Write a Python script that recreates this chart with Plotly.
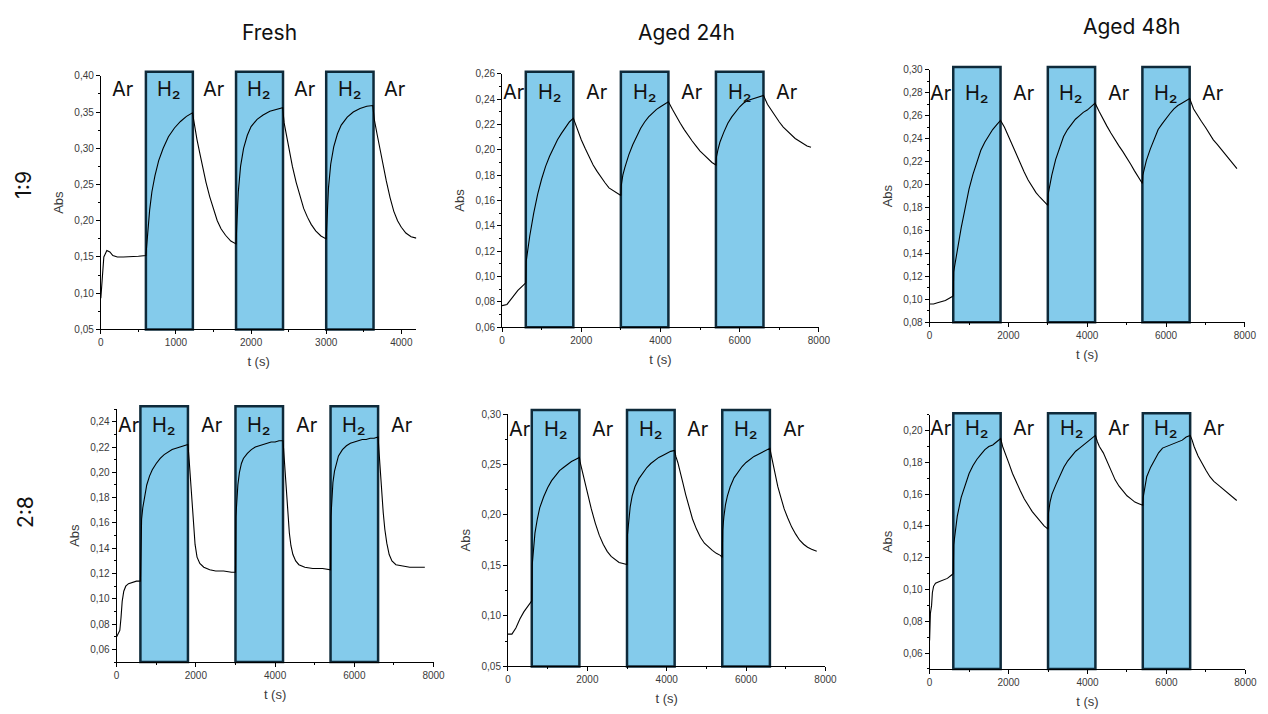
import plotly.graph_objects as go

# ---- Absorbance transients (t in s, Abs) ----
t_fresh_19 = [0, 15, 40, 80, 120, 160, 220, 300, 400, 500, 600,
              610, 625, 650, 680, 720, 770, 830, 900, 980, 1060, 1140, 1220,
              1240, 1280, 1320, 1360, 1400, 1450, 1500, 1550, 1600, 1660, 1730, 1800,
              1810, 1830, 1860, 1900, 1950, 2000, 2080, 2160, 2250, 2340, 2420,
              2440, 2480, 2510, 2550, 2600, 2650, 2700, 2750, 2800, 2860, 2930, 3000,
              3010, 3030, 3060, 3100, 3150, 3200, 3280, 3360, 3450, 3540, 3620,
              3640, 3680, 3720, 3760, 3800, 3850, 3900, 3950, 4000, 4060, 4130, 4200]
abs_fresh_19 = [0.093, 0.120, 0.150, 0.159, 0.157, 0.152, 0.150, 0.150, 0.150, 0.151, 0.152,
                0.165, 0.185, 0.215, 0.240, 0.262, 0.283, 0.300, 0.316, 0.328, 0.337, 0.344, 0.349,
                0.335, 0.312, 0.292, 0.272, 0.253, 0.233, 0.215, 0.200, 0.189, 0.180, 0.172, 0.168,
                0.195, 0.240, 0.275, 0.300, 0.318, 0.330, 0.340, 0.346, 0.351, 0.354, 0.356,
                0.335, 0.312, 0.295, 0.275, 0.253, 0.234, 0.217, 0.205, 0.195, 0.186, 0.179, 0.175,
                0.195, 0.245, 0.278, 0.302, 0.320, 0.332, 0.343, 0.350, 0.355, 0.358, 0.359,
                0.340, 0.318, 0.296, 0.275, 0.255, 0.232, 0.213, 0.200, 0.191, 0.183, 0.178, 0.176]

t_24h_19 = [0, 125, 200, 333, 400, 500, 600,
            610, 650, 700, 800, 900, 1000, 1100, 1200, 1300, 1400, 1500, 1600, 1700, 1800,
            1900, 2000, 2100, 2200, 2300, 2400, 2500, 2600, 2700, 2800, 2900, 3000,
            3010, 3050, 3100, 3200, 3300, 3400, 3500, 3600, 3700, 3800, 3900, 4000, 4100, 4200,
            4300, 4400, 4500, 4600, 4700, 4800, 4900, 5000, 5100, 5200, 5300, 5400,
            5410, 5450, 5500, 5600, 5700, 5800, 5900, 6000, 6100, 6200, 6300, 6400, 6500, 6600,
            6700, 6800, 6900, 7000, 7100, 7200, 7300, 7400, 7500, 7600, 7700, 7800]
abs_24h_19 = [0.077, 0.078, 0.081, 0.087, 0.089, 0.092, 0.095,
              0.112, 0.122, 0.132, 0.150, 0.165, 0.177, 0.187, 0.195, 0.202, 0.208, 0.213, 0.218, 0.222, 0.225,
              0.216, 0.208, 0.201, 0.194, 0.188, 0.183, 0.178, 0.174, 0.170, 0.168, 0.166, 0.164,
              0.172, 0.180, 0.186, 0.196, 0.204, 0.211, 0.217, 0.222, 0.226, 0.229, 0.232, 0.234, 0.236, 0.238,
              0.232, 0.226, 0.221, 0.216, 0.211, 0.207, 0.203, 0.199, 0.196, 0.193, 0.190, 0.188,
              0.194, 0.200, 0.206, 0.214, 0.221, 0.226, 0.230, 0.234, 0.237, 0.239, 0.240, 0.241, 0.242, 0.243,
              0.236, 0.231, 0.226, 0.222, 0.218, 0.215, 0.212, 0.209, 0.207, 0.205, 0.203, 0.202]

t_48h_19 = [0, 100, 200, 300, 400, 500, 600,
            610, 650, 700, 750, 800, 900, 1000, 1100, 1200, 1300, 1400, 1500, 1600, 1700, 1800,
            1900, 2000, 2100, 2200, 2300, 2400, 2500, 2600, 2700, 2800, 2900, 3000,
            3010, 3050, 3100, 3200, 3300, 3400, 3500, 3600, 3700, 3800, 3900, 4000, 4100, 4200,
            4300, 4400, 4500, 4600, 4700, 4800, 4900, 5000, 5100, 5200, 5300, 5400,
            5410, 5450, 5500, 5600, 5700, 5800, 5900, 6000, 6100, 6200, 6300, 6400, 6500, 6600,
            6700, 6800, 6900, 7000, 7100, 7200, 7300, 7400, 7500, 7600, 7700, 7800]
abs_48h_19 = [0.096, 0.096, 0.097, 0.098, 0.099, 0.101, 0.103,
              0.124, 0.133, 0.143, 0.152, 0.162, 0.180, 0.196, 0.209, 0.220, 0.230, 0.237, 0.243, 0.248, 0.252, 0.256,
              0.250, 0.242, 0.235, 0.227, 0.219, 0.211, 0.204, 0.198, 0.193, 0.189, 0.185, 0.182,
              0.192, 0.200, 0.208, 0.222, 0.233, 0.242, 0.248, 0.253, 0.257, 0.260, 0.263, 0.265, 0.268, 0.271,
              0.264, 0.257, 0.251, 0.245, 0.239, 0.234, 0.229, 0.224, 0.218, 0.212, 0.206, 0.201,
              0.208, 0.215, 0.221, 0.231, 0.240, 0.248, 0.253, 0.258, 0.262, 0.266, 0.269, 0.271, 0.273, 0.275,
              0.266, 0.260, 0.255, 0.250, 0.244, 0.239, 0.235, 0.231, 0.227, 0.223, 0.218, 0.214]

t_fresh_28 = [0, 40, 80, 110, 140, 180, 230, 300, 400, 500, 600,
              610, 630, 660, 700, 760, 830, 900, 1000, 1100, 1200, 1300, 1400, 1500, 1600, 1700, 1800,
              1830, 1860, 1900, 1940, 1980, 2030, 2100, 2200, 2350, 2500, 2700, 2900, 3000,
              3010, 3030, 3060, 3100, 3150, 3200, 3300, 3400, 3500, 3600, 3700, 3800, 3900, 4000, 4100, 4200,
              4220, 4250, 4280, 4320, 4360, 4400, 4450, 4520, 4600, 4750, 4950, 5200, 5400,
              5410, 5430, 5460, 5500, 5550, 5600, 5700, 5800, 5900, 6000, 6100, 6200, 6300, 6400, 6500, 6600,
              6620, 6650, 6690, 6730, 6770, 6820, 6880, 6950, 7050, 7200, 7400, 7600, 7780]
abs_fresh_28 = [0.070, 0.072, 0.075, 0.085, 0.098, 0.106, 0.110, 0.112, 0.113, 0.114, 0.114,
                0.155, 0.163, 0.172, 0.180, 0.190, 0.197, 0.202, 0.207, 0.211, 0.214, 0.216, 0.218, 0.219, 0.220, 0.221, 0.222,
                0.210, 0.195, 0.175, 0.158, 0.143, 0.133, 0.128, 0.125, 0.123, 0.122, 0.122, 0.121, 0.121,
                0.165, 0.180, 0.190, 0.200, 0.207, 0.211, 0.215, 0.218, 0.220, 0.221, 0.222, 0.223, 0.224, 0.224, 0.225, 0.225,
                0.215, 0.200, 0.186, 0.168, 0.152, 0.142, 0.135, 0.130, 0.127, 0.125, 0.124, 0.124, 0.123,
                0.165, 0.180, 0.192, 0.201, 0.208, 0.213, 0.218, 0.221, 0.223, 0.224, 0.225, 0.226, 0.226, 0.227, 0.227, 0.228,
                0.218, 0.203, 0.187, 0.168, 0.155, 0.144, 0.135, 0.130, 0.127, 0.126, 0.125, 0.125, 0.125]

t_24h_28 = [0, 100, 200, 300, 400, 500, 600,
            610, 640, 680, 740, 800, 900, 1000, 1100, 1200, 1300, 1400, 1500, 1600, 1700, 1800,
            1820, 1860, 1900, 1960, 2020, 2100, 2200, 2300, 2400, 2500, 2600, 2700, 2800, 2900, 3000,
            3010, 3040, 3080, 3130, 3200, 3300, 3400, 3500, 3600, 3700, 3800, 3900, 4000, 4100, 4200,
            4230, 4280, 4330, 4400, 4480, 4560, 4650, 4750, 4850, 4950, 5050, 5150, 5250, 5350, 5400,
            5410, 5440, 5480, 5530, 5600, 5700, 5800, 5900, 6000, 6100, 6200, 6300, 6400, 6500, 6600,
            6630, 6680, 6740, 6800, 6880, 6960, 7050, 7150, 7250, 7350, 7450, 7550, 7650, 7780]
abs_24h_28 = [0.082, 0.082, 0.088, 0.097, 0.104, 0.110, 0.115,
              0.150, 0.168, 0.182, 0.196, 0.207, 0.218, 0.227, 0.234, 0.239, 0.244, 0.247, 0.250, 0.253, 0.255, 0.257,
              0.252, 0.245, 0.238, 0.228, 0.219, 0.206, 0.192, 0.180, 0.171, 0.164, 0.159, 0.156, 0.153, 0.152, 0.151,
              0.180, 0.196, 0.208, 0.219, 0.228, 0.236, 0.242, 0.247, 0.251, 0.254, 0.257, 0.259, 0.261, 0.263, 0.264,
              0.258, 0.252, 0.245, 0.233, 0.220, 0.208, 0.196, 0.186, 0.178, 0.172, 0.168, 0.165, 0.162, 0.160, 0.158,
              0.185, 0.198, 0.210, 0.219, 0.228, 0.237, 0.243, 0.248, 0.252, 0.255, 0.258, 0.260, 0.262, 0.264, 0.266,
              0.260, 0.250, 0.238, 0.228, 0.217, 0.206, 0.197, 0.188, 0.181, 0.175, 0.171, 0.168, 0.166, 0.164]

t_48h_28 = [0, 20, 50, 70, 100, 150, 250, 350, 450, 550, 600,
            610, 650, 700, 800, 900, 1000, 1100, 1200, 1300, 1400, 1500, 1600, 1700, 1800,
            1850, 1900, 2000, 2100, 2200, 2300, 2400, 2500, 2600, 2700, 2800, 2900, 3000,
            3010, 3050, 3100, 3200, 3300, 3400, 3500, 3600, 3700, 3800, 3900, 4000, 4100, 4200,
            4250, 4300, 4400, 4500, 4600, 4700, 4800, 4900, 5000, 5100, 5200, 5300, 5400,
            5410, 5450, 5500, 5600, 5700, 5800, 5900, 6000, 6100, 6200, 6300, 6400, 6500, 6600,
            6650, 6700, 6800, 6900, 7000, 7100, 7200, 7300, 7400, 7500, 7600, 7700, 7780]
abs_48h_28 = [0.068, 0.085, 0.090, 0.098, 0.102, 0.104, 0.105, 0.106, 0.107, 0.109, 0.110,
              0.128, 0.137, 0.146, 0.158, 0.166, 0.173, 0.178, 0.182, 0.185, 0.188, 0.190, 0.191, 0.193, 0.195,
              0.190, 0.187, 0.180, 0.173, 0.167, 0.162, 0.157, 0.153, 0.149, 0.146, 0.143, 0.140, 0.138,
              0.148, 0.155, 0.160, 0.166, 0.172, 0.177, 0.181, 0.184, 0.187, 0.189, 0.191, 0.193, 0.195, 0.197,
              0.193, 0.190, 0.186, 0.180, 0.174, 0.169, 0.165, 0.162, 0.159, 0.157, 0.155, 0.154, 0.153,
              0.158, 0.165, 0.171, 0.177, 0.182, 0.186, 0.189, 0.190, 0.191, 0.192, 0.193, 0.194, 0.196, 0.197,
              0.194, 0.190, 0.184, 0.179, 0.175, 0.171, 0.168, 0.166, 0.164, 0.162, 0.160, 0.158, 0.156]

# H2 exposure windows (s) and gas-label positions (s)
h2_windows_fresh_19 = [(600, 1225), (1800, 2425), (3000, 3630)]
h2_windows_long = [(600, 1800), (3000, 4200), (5400, 6600)]
gas_labels = ["Ar", "H₂", "Ar", "H₂", "Ar", "H₂", "Ar"]
gas_label_t_fresh_19 = [300, 912, 1512, 2112, 2715, 3315, 3915]
gas_label_t_long = [300, 1200, 2400, 3600, 4800, 6000, 7200]

column_titles = ["Fresh", "Aged 24h", "Aged 48h"]
row_titles = ["1:9", "2:8"]

W, H = 1268, 714

# panel layout: pixel box (left, right, top, bottom), axis ranges, tick steps
panels = [
    dict(t=t_fresh_19, a=abs_fresh_19, win=h2_windows_fresh_19, lt=gas_label_t_fresh_19,
         box=(99, 418.3, 71, 329), xr=[0, 4200], xd=1000, yr=[0.05, 0.40], yd=0.05, y0=0.05,
         top=4, ldy=13),
    dict(t=t_24h_19, a=abs_24h_19, win=h2_windows_long, lt=gas_label_t_long,
         box=(505, 825.7, 69, 326.7), xr=[0, 8000], xd=2000, yr=[0.06, 0.26], yd=0.02, y0=0.06,
         top=2, ldy=18),
    dict(t=t_48h_19, a=abs_48h_19, win=h2_windows_long, lt=gas_label_t_long,
         box=(937.7, 1256.7, 65, 321.7), xr=[0, 8000], xd=2000, yr=[0.08, 0.30], yd=0.02, y0=0.08,
         top=3, ldy=23),
    dict(t=t_fresh_28, a=abs_fresh_28, win=h2_windows_long, lt=gas_label_t_long,
         box=(115, 435.7, 410, 667.3), xr=[0, 8000], xd=2000, yr=[0.05, 0.25], yd=0.02, y0=0.06,
         top=3, ldy=16),
    dict(t=t_24h_28, a=abs_24h_28, win=h2_windows_long, lt=gas_label_t_long,
         box=(511, 832.3, 415, 671.7), xr=[0, 8000], xd=2000, yr=[0.05, 0.30], yd=0.05, y0=0.05,
         top=4, ldy=15),
    dict(t=t_48h_28, a=abs_48h_28, win=h2_windows_long, lt=gas_label_t_long,
         box=(937.7, 1257.3, 415.7, 674.3), xr=[0, 8000], xd=2000, yr=[0.05, 0.21], yd=0.02, y0=0.06,
         top=1.5, ldy=13),
]

TICK_FONT = dict(family="Liberation Sans, Arial", size=10, color="#3a3a3a")
TITLE_FONT = dict(family="Liberation Sans, Arial", size=13, color="#3a3a3a")
LABEL_FONT = dict(family="Inter, Arial", size=20, color="#111111")
HEAD_FONT = dict(family="Inter, Arial", size=21, color="#111111")

fig = go.Figure()
shapes, annotations = [], []
layout_axes = {}

for i, p in enumerate(panels, start=1):
    suffix = "" if i == 1 else str(i)
    xa, ya = f"x{suffix}", f"y{suffix}"
    left, right, top, bottom = p["box"]
    height_px = bottom - top

    fig.add_trace(go.Scatter(x=p["t"], y=p["a"], mode="lines", xaxis=xa, yaxis=ya,
                             line=dict(color="black", width=1.1), showlegend=False,
                             hoverinfo="x+y"))

    layout_axes[f"xaxis{suffix}"] = dict(
        domain=[left / W, right / W], anchor=ya, range=p["xr"], dtick=p["xd"], tick0=0,
        showgrid=False, zeroline=False, showline=True, linecolor="black", linewidth=1,
        ticks="outside", ticklen=4, tickcolor="black", tickfont=TICK_FONT,
        minor=dict(ticks="outside", ticklen=2, dtick=p["xd"] / 2, tickcolor="black"),
        title=dict(text="t (s)", font=TITLE_FONT, standoff=9),
    )
    layout_axes[f"yaxis{suffix}"] = dict(
        domain=[1 - bottom / H, 1 - top / H], anchor=xa, range=p["yr"], dtick=p["yd"], tick0=p["y0"],
        tickformat=".2f",
        showgrid=False, zeroline=False, showline=True, linecolor="black", linewidth=1,
        ticks="outside", ticklen=4, tickcolor="black", tickfont=TICK_FONT,
        minor=dict(ticks="outside", ticklen=2, dtick=p["yd"] / 2, tickcolor="black"),
        title=dict(text="Abs", font=TITLE_FONT, standoff=7),
    )

    # H2 exposure windows
    for (t0, t1) in p["win"]:
        shapes.append(dict(type="rect", xref=xa, yref=f"{ya} domain", x0=t0, x1=t1,
                           y0=0, y1=1 + p["top"] / height_px, layer="below",
                           fillcolor="#84CBEB", line=dict(color="#0E2A3A", width=2.5)))

    # gas labels across the top of the panel
    for txt, tx in zip(gas_labels, p["lt"]):
        annotations.append(dict(text=txt, x=tx, y=1, xref=xa, yref=f"{ya} domain",
                                yshift=-p["ldy"], showarrow=False, xanchor="center",
                                yanchor="middle", font=LABEL_FONT))

# column headings and row labels
for txt, cx, cy in zip(column_titles, [270, 692, 1142], [27, 27, 21]):
    annotations.append(dict(text=txt, x=cx / W, y=1 - cy / H, xref="paper", yref="paper",
                            showarrow=False, xanchor="center", yanchor="middle", font=HEAD_FONT))
for txt, cx, cy in zip(row_titles, [21, 23], [182, 515]):
    annotations.append(dict(text=txt, x=cx / W, y=1 - cy / H, xref="paper", yref="paper",
                            showarrow=False, xanchor="center", yanchor="middle", textangle=-90,
                            font=HEAD_FONT))

fig.update_layout(
    width=W, height=H, margin=dict(l=0, r=0, t=0, b=0),
    paper_bgcolor="white", plot_bgcolor="white",
    separators=",.",
    shapes=shapes, annotations=annotations,
    **layout_axes,
)

fig.write_html("out.html")
